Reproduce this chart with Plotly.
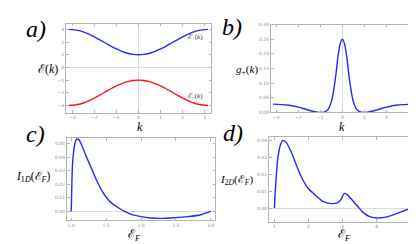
import plotly.graph_objects as go

W, H = 416, 244

# ---- panel a: band energies ----
k_a = [-3.1416, -2.75, -2.5, -2.25, -2.0, -1.75, -1.5, -1.25, -1.0, -0.75, -0.5, -0.25, 0.0,
       0.25, 0.5, 0.75, 1.0, 1.25, 1.5, 1.75, 2.0, 2.25, 2.5, 2.75, 3.1416]
e_plus = [3.00, 2.92, 2.80, 2.63, 2.42, 2.18, 1.93, 1.68, 1.46, 1.27, 1.12, 1.03, 1.00,
          1.03, 1.12, 1.27, 1.46, 1.68, 1.93, 2.18, 2.42, 2.63, 2.80, 2.92, 3.00]
e_minus = [-3.00, -2.92, -2.80, -2.63, -2.42, -2.18, -1.93, -1.68, -1.46, -1.27, -1.12, -1.03, -1.00,
           -1.03, -1.12, -1.27, -1.46, -1.68, -1.93, -2.18, -2.42, -2.63, -2.80, -2.92, -3.00]

# ---- panel b: g_+(k) ----
k_b = [-3.1416, -2.5, -2.0, -1.6, -1.3, -1.0, -0.8, -0.65, -0.5, -0.4, -0.3, -0.2, -0.1, 0.0,
       0.1, 0.2, 0.3, 0.4, 0.5, 0.65, 0.8, 1.0, 1.3, 1.6, 2.0, 2.5, 3.1416]
g_plus = [0.028, 0.025, 0.018, 0.009, 0.003, 0.0, 0.0015, 0.010, 0.036, 0.073, 0.125, 0.19, 0.234, 0.25,
          0.234, 0.19, 0.125, 0.073, 0.036, 0.010, 0.0015, 0.0, 0.003, 0.009, 0.018, 0.025, 0.028]

# ---- panel c: I_1D(E_F) ----
ef_c = [1.0, 1.005, 1.014, 1.027, 1.045, 1.065, 1.085, 1.11, 1.14, 1.21, 1.29, 1.36, 1.43, 1.5,
        1.57, 1.67, 1.76, 1.86, 2.0, 2.14, 2.29, 2.48, 2.67, 2.86, 3.0]
i1d = [0.0, 0.0095, 0.0286, 0.040, 0.0476, 0.0522, 0.0533, 0.0528, 0.0500, 0.0412, 0.0317, 0.0233,
       0.0161, 0.0106, 0.0065, 0.0029, 0.0002, -0.0022, -0.0038, -0.0048, -0.0051, -0.0046,
       -0.0038, -0.0024, 0.0]

# ---- panel d: I_2D(E_F) ----
ef_d = [1.0, 1.02, 1.05, 1.1, 1.17, 1.25, 1.34, 1.49, 1.64, 1.83, 1.98, 2.18, 2.42, 2.67, 2.86,
        2.96, 3.01, 3.06, 3.13, 3.25, 3.45, 3.6, 3.8, 4.04, 4.34, 4.63, 5.0]
i2d = [0.0, 0.009, 0.018, 0.0294, 0.037, 0.0400, 0.039, 0.0333, 0.0256, 0.0169, 0.0119, 0.0081,
       0.0040, 0.0027, 0.0033, 0.0052, 0.0075, 0.0087, 0.0081, 0.0056, 0.0010, -0.0025, -0.0050,
       -0.0058, -0.0050, -0.0029, 0.0]

a_xticks = [-3, -2, -1, 0, 1, 2, 3]
a_yticks = [-3, -2, -1, 0, 1, 2, 3]
b_yticks = [0.0, 0.05, 0.10, 0.15, 0.20, 0.25, 0.30]
c_xticks = [1.0, 1.5, 2.0, 2.5, 3.0]
c_yticks = [0.0, 0.01, 0.02, 0.03, 0.04, 0.05]
d_xticks = [1, 2, 3, 4, 5]
d_yticks = [0.0, 0.01, 0.02, 0.03, 0.04]

BLUE = "rgb(40,40,255)"
RED = "rgb(255,20,20)"
SERIF = "Liberation Serif, DejaVu Serif, serif"

fig = go.Figure()
line = dict(width=1.4, shape="spline", smoothing=0.8)
fig.add_trace(go.Scatter(x=k_a, y=e_plus, mode="lines", line=dict(color=BLUE, **line), xaxis="x", yaxis="y"))
fig.add_trace(go.Scatter(x=k_a, y=e_minus, mode="lines", line=dict(color=RED, **line), xaxis="x", yaxis="y"))
fig.add_trace(go.Scatter(x=k_b, y=g_plus, mode="lines", line=dict(color=BLUE, **line), xaxis="x2", yaxis="y2"))
fig.add_trace(go.Scatter(x=ef_c, y=i1d, mode="lines", line=dict(color=BLUE, **line), xaxis="x3", yaxis="y3"))
fig.add_trace(go.Scatter(x=ef_d, y=i2d, mode="lines", line=dict(color=BLUE, **line), xaxis="x4", yaxis="y4"))


def ax(domain, rng, tickvals, fmt, anchor):
    return dict(domain=domain, range=rng, tickvals=tickvals, tickformat=fmt, anchor=anchor,
                showline=True, mirror="allticks", linecolor="#b4b4b4", linewidth=1,
                ticks="inside", ticklen=2.5, tickcolor="#b4b4b4", tickwidth=0.6,
                tickfont=dict(size=4.5, color="#8a8a8a", family="DejaVu Sans"),
                showgrid=False, zeroline=True, zerolinecolor="#dcdcdc", zerolinewidth=1,
                fixedrange=True)


def px_x(a, b):
    return [a / W, b / W]


def px_y(top, bottom):
    return [1 - bottom / H, 1 - top / H]


layout = dict(
    width=W, height=H, margin=dict(l=0, r=0, t=0, b=0),
    paper_bgcolor="white", plot_bgcolor="white", showlegend=False,
    xaxis=ax(px_x(58, 203), [-3.28, 3.28], a_xticks, "d", "y"),
    yaxis=ax(px_y(14, 105), [-3.58, 3.45], a_yticks, "d", "x"),
    xaxis2=ax(px_x(263, 405.5), [-3.23, 3.22], a_xticks, "d", "y2"),
    yaxis2=ax(px_y(15, 104.5), [0, 0.30], b_yticks, ".2f", "x2"),
    xaxis3=ax(px_x(59, 207), [0.94, 3.06], c_xticks, ".1f", "y3"),
    yaxis3=ax(px_y(130.7, 214.7), [-0.0065, 0.054], c_yticks, ".2f", "x3"),
    xaxis4=ax(px_x(261, 405.3), [0.84, 5.08], d_xticks, "d", "y4"),
    yaxis4=ax(px_y(129.7, 216.3), [-0.0081, 0.042], d_yticks, ".2f", "x4"),
)
fig.update_layout(**layout)


def note(text, x, y, size, anchor="center", color="black"):
    fig.add_annotation(text=text, x=x / W, y=1 - y / H, xref="paper", yref="paper",
                       showarrow=False, xanchor=anchor, yanchor="middle",
                       font=dict(family=SERIF, size=size, color=color))


# panel letters
note("<i>a)</i>", 16, 19, 24, "left")
note("<i>b)</i>", 212, 17, 24, "left")
note("<i>c)</i>", 16, 127, 24, "left")
note("<i>d)</i>", 213, 126, 24, "left")

# axis labels
note("ℰ(<i>k</i>)", 28, 60, 12, "left")
note("<i>k</i>", 132, 119, 12)
note("<i>g</i><sub>+</sub>(<i>k</i>)", 226, 61, 11, "left")
note("<i>k</i>", 334, 119, 12)
note("<i>I</i><sub>1<i>D</i></sub>(ℰ<sub><i>F</i></sub>)", 6, 171, 11.5, "left")
note("ℰ<sub><i>F</i></sub>", 118, 230, 12, "left")
note("<i>I</i><sub>2<i>D</i></sub>(ℰ<sub><i>F</i></sub>)", 210, 174, 11, "left")
note("ℰ<sub><i>F</i></sub>", 328, 230, 12, "left")

# curve labels in panel a
fig.add_annotation(text="ℰ<sub>+</sub>(<i>k</i>)", x=2.6, y=2.4, xref="x", yref="y", showarrow=False,
                   font=dict(family=SERIF, size=7, color="#333"))
fig.add_annotation(text="ℰ<sub>−</sub>(<i>k</i>)", x=2.6, y=-2.25, xref="x", yref="y", showarrow=False,
                   font=dict(family=SERIF, size=7, color="#333"))

fig.write_html("out.html")
